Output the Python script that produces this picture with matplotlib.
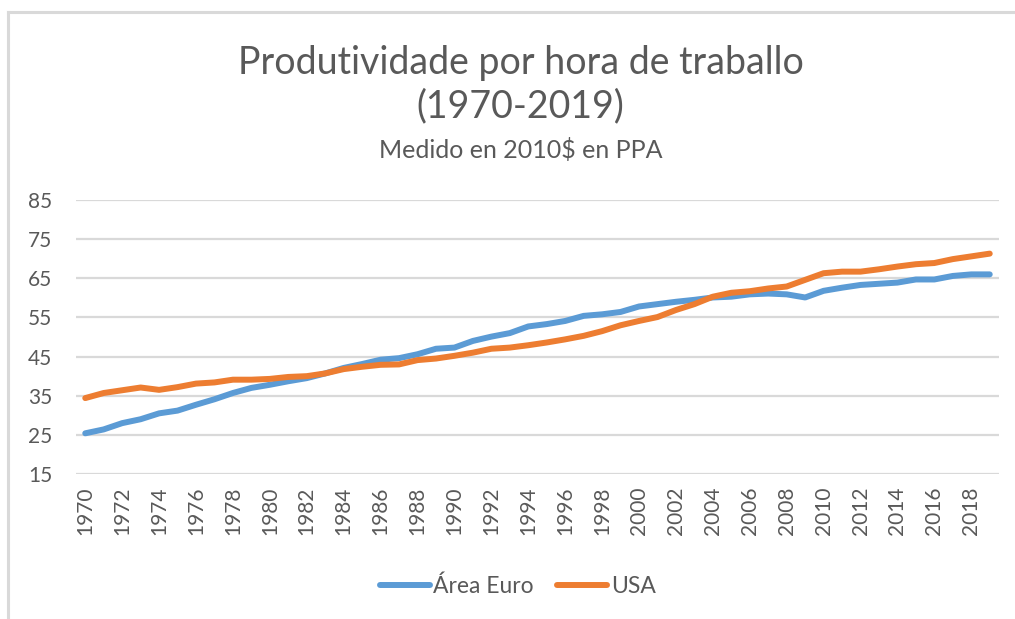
import matplotlib
matplotlib.use("Agg")
import matplotlib.pyplot as plt
from matplotlib.lines import Line2D

# ======================
# Data
# ======================
years = list(range(1970, 2020))

euro = [25.4, 26.4, 28.0, 29.0, 30.5, 31.2, 32.7, 34.1, 35.7, 37.0,
        37.8, 38.7, 39.5, 40.7, 42.1, 43.1, 44.2, 44.6, 45.6, 47.0,
        47.3, 49.0, 50.1, 51.0, 52.7, 53.3, 54.1, 55.4, 55.8, 56.4,
        57.8, 58.4, 59.0, 59.5, 60.1, 60.3, 60.9, 61.1, 60.9, 60.1,
        61.8, 62.6, 63.3, 63.6, 63.9, 64.7, 64.7, 65.6, 66.0, 66.0]

usa = [34.4, 35.7, 36.4, 37.1, 36.5, 37.2, 38.1, 38.4, 39.1, 39.1,
       39.3, 39.8, 40.0, 40.7, 41.8, 42.4, 42.9, 43.0, 44.1, 44.5,
       45.2, 46.0, 47.0, 47.3, 47.9, 48.6, 49.4, 50.3, 51.5, 53.0,
       54.1, 55.1, 56.9, 58.4, 60.3, 61.3, 61.7, 62.4, 62.9, 64.6,
       66.3, 66.7, 66.7, 67.3, 68.0, 68.6, 68.9, 69.9, 70.6, 71.3]

y_ticks = [15, 25, 35, 45, 55, 65, 75, 85]
x_ticks = years[::2]

BLUE = "#5b9bd5"
ORANGE = "#ed7d31"
TXT = "#595959"
GRID = "#d9d9d9"

plt.rcParams["font.family"] = ["Lato", "DejaVu Sans"]

fig = plt.figure(figsize=(10.15, 6.19), dpi=100)
ax = fig.add_axes([0.0749, 0.2342, 0.9093, 0.4427])

ax.plot(years, euro, color=BLUE, lw=4.3, solid_capstyle="round", solid_joinstyle="round")
ax.plot(years, usa, color=ORANGE, lw=4.3, solid_capstyle="round", solid_joinstyle="round")

ax.set_xlim(1969.5, 2019.5)
ax.set_ylim(15, 85)
ax.set_yticks(y_ticks)
ax.set_xticks(x_ticks)
ax.set_xticklabels([str(y) for y in x_ticks], rotation=90)
ax.tick_params(axis="both", length=0, colors=TXT, labelsize=15)
ax.tick_params(axis="y", pad=17)
ax.tick_params(axis="x", pad=9)
ax.grid(axis="y", color=GRID, lw=1.6)
ax.set_axisbelow(True)
for s in ax.spines.values():
    s.set_visible(False)

# titles
fig.text(0.513, 0.899, "Produtividade por hora de traballo", ha="center", va="center",
         fontsize=27, color=TXT)
fig.text(0.513, 0.829, "(1970-2019)", ha="center", va="center",
         fontsize=27, color=TXT)
fig.text(0.513, 0.757, "Medido en 2010$ en PPA", ha="center", va="center",
         fontsize=18, color=TXT)

# legend
handles = [Line2D([], [], color=BLUE, lw=4.3, solid_capstyle="round"),
           Line2D([], [], color=ORANGE, lw=4.3, solid_capstyle="round")]
fig.legend(handles, ["Área Euro", "USA"], loc="center", bbox_to_anchor=(0.51, 0.053),
           ncol=2, frameon=False, fontsize=16.5, labelcolor=TXT, handlelength=2.2,
           handletextpad=0.15, columnspacing=1.0)

# chart-area border (top and left visible)
fig.add_artist(Line2D([0.008, 0.008], [0.0, 0.981], color=GRID, lw=2.2, transform=fig.transFigure))
fig.add_artist(Line2D([0.008, 1.0], [0.981, 0.981], color=GRID, lw=2.2, transform=fig.transFigure))

fig.savefig("out.png", dpi=100, facecolor="white")
